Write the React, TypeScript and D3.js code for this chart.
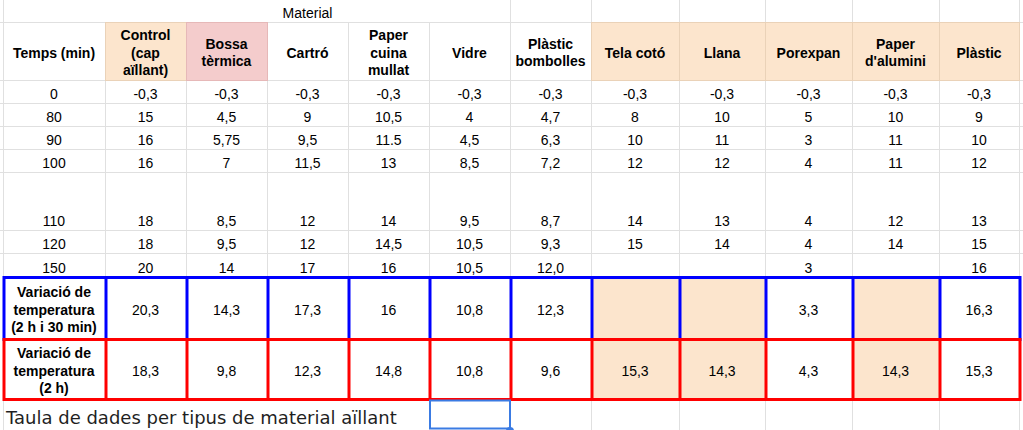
import React, { useEffect, useRef } from "react";
import * as d3 from "d3";

// ---- data (read from the sheet) ----
const groupLabel = "Material";
const timeHeader = "Temps (min)";
const times = ["0", "80", "90", "100", "110", "120", "150"];
const materials = [
  "Control\n(cap\naïllant)",
  "Bossa\ntèrmica",
  "Cartró",
  "Paper\ncuina\nmullat",
  "Vidre",
  "Plàstic\nbombolles",
  "Tela cotó",
  "Llana",
  "Porexpan",
  "Paper\nd'alumini",
  "Plàstic",
];
const control = ["-0,3", "15", "16", "16", "18", "18", "20"];
const bossaTermica = ["-0,3", "4,5", "5,75", "7", "8,5", "9,5", "14"];
const cartro = ["-0,3", "9", "9,5", "11,5", "12", "12", "17"];
const paperCuina = ["-0,3", "10,5", "11.5", "13", "14", "14,5", "16"];
const vidre = ["-0,3", "4", "4,5", "8,5", "9,5", "10,5", "10,5"];
const plasticBombolles = ["-0,3", "4,7", "6,3", "7,2", "8,7", "9,3", "12,0"];
const telaCoto = ["-0,3", "8", "10", "12", "14", "15", ""];
const llana = ["-0,3", "10", "11", "12", "13", "14", ""];
const porexpan = ["-0,3", "5", "3", "4", "4", "4", "3"];
const paperAlumini = ["-0,3", "10", "11", "11", "12", "14", ""];
const plastic = ["-0,3", "9", "10", "12", "13", "15", "16"];
const series = [
  control,
  bossaTermica,
  cartro,
  paperCuina,
  vidre,
  plasticBombolles,
  telaCoto,
  llana,
  porexpan,
  paperAlumini,
  plastic,
];
const variationLabels = [
  "Variació de\ntemperatura\n(2 h i 30 min)",
  "Variació de\ntemperatura\n(2 h)",
];
const variation150 = ["20,3", "14,3", "17,3", "16", "10,8", "12,3", "", "", "3,3", "", "16,3"];
const variation120 = ["18,3", "9,8", "12,3", "14,8", "10,8", "9,6", "15,3", "14,3", "4,3", "14,3", "15,3"];
const caption = "Taula de dades per tipus de material aïllant";

// ---- layout / style ----
const W = 1023;
const H = 430;
const left = 3;
const colWidths = [102, 81, 81, 81, 81, 81, 81, 88, 86, 87, 87, 80];
// group, header, 7 time rows, 2 variation rows, caption row
const rowHeights = [22, 58, 23, 23, 23, 23, 58, 23, 24, 62, 60, 31];
const peach = "#fce5cd";
const pink = "#f4cccc";
const headerFill: Record<number, string> = {
  0: peach,
  1: pink,
  6: peach,
  7: peach,
  8: peach,
  9: peach,
  10: peach,
};
const grid = "#e0e0e0";
const font = "'Liberation Sans', Arial, sans-serif";

export default function App() {
  const ref = useRef<SVGSVGElement | null>(null);

  useEffect(() => {
    const svg = d3.select(ref.current);
    svg.selectAll("*").remove();

    const colX = [left, ...Array.from(d3.cumsum(colWidths)).map((v) => left + v)];
    const rowY = [0, ...Array.from(d3.cumsum(rowHeights))];
    const cx = (c: number) => (colX[c] + colX[c + 1]) / 2;
    const last = colX.length - 1;

    svg.append("rect").attr("width", W).attr("height", H).attr("fill", "#fff");

    // fills
    const fills = svg.append("g");
    materials.forEach((_m, i) => {
      const f = headerFill[i];
      if (!f) return;
      fills
        .append("rect")
        .attr("x", colX[i + 1])
        .attr("y", rowY[1])
        .attr("width", colX[i + 2] - colX[i + 1])
        .attr("height", rowY[2] - rowY[1])
        .attr("fill", f);
    });
    variation150.forEach((v, i) => {
      if (v !== "") return;
      fills
        .append("rect")
        .attr("x", colX[i + 1])
        .attr("y", rowY[9])
        .attr("width", colX[i + 2] - colX[i + 1])
        .attr("height", rowY[11] - rowY[9])
        .attr("fill", peach);
    });

    // grid lines
    const lines = svg
      .append("g")
      .attr("stroke", grid)
      .attr("stroke-width", 1)
      .attr("shape-rendering", "crispEdges");
    for (let r = 1; r <= 8; r++) {
      lines
        .append("line")
        .attr("x1", 0)
        .attr("x2", W)
        .attr("y1", rowY[r] + 0.5)
        .attr("y2", rowY[r] + 0.5);
    }
    colX.forEach((x, c) => {
      let y0 = 0;
      if (c >= 1 && c <= 5) y0 = rowY[1];
      let y1 = H;
      if (c >= 1 && c <= 6) y1 = rowY[11];
      lines
        .append("line")
        .attr("x1", x + 0.5)
        .attr("x2", x + 0.5)
        .attr("y1", y0)
        .attr("y2", y1);
    });
    // tinted borders round the coloured header cells
    materials.forEach((_m, i) => {
      if (!headerFill[i]) return;
      svg
        .append("rect")
        .attr("x", colX[i + 1] + 0.5)
        .attr("y", rowY[1] + 0.5)
        .attr("width", colX[i + 2] - colX[i + 1])
        .attr("height", rowY[2] - rowY[1])
        .attr("fill", "none")
        .attr("stroke", headerFill[i] === pink ? "#e6b8b8" : "#ead2b8")
        .attr("shape-rendering", "crispEdges");
    });

    const text = svg
      .append("g")
      .attr("font-family", font)
      .attr("font-size", 14)
      .attr("fill", "#000")
      .attr("text-anchor", "middle");

    const multi = (label: string, x: number, r: number, bold: boolean) => {
      const parts = label.split("\n");
      const mid = (rowY[r] + rowY[r + 1]) / 2;
      const t = text.append("text").attr("font-weight", bold ? "bold" : "normal");
      parts.forEach((p, i) => {
        t.append("tspan")
          .attr("x", x)
          .attr("y", mid + 6.7 + (i - (parts.length - 1) / 2) * 17.3)
          .text(p);
      });
    };

    // group title
    text
      .append("text")
      .attr("x", (colX[1] + colX[6]) / 2)
      .attr("y", rowY[1] - 4)
      .text(groupLabel);

    // header row
    multi(timeHeader, cx(0), 1, true);
    materials.forEach((m, i) => multi(m, cx(i + 1), 1, true));

    // time rows
    times.forEach((t, r) => {
      const base = rowY[r + 3] - 4.5;
      text.append("text").attr("x", cx(0)).attr("y", base).text(t);
      series.forEach((s, i) => {
        if (s[r] === "") return;
        text.append("text").attr("x", cx(i + 1)).attr("y", base).text(s[r]);
      });
    });

    // variation rows
    [variation150, variation120].forEach((vals, k) => {
      const r = 9 + k;
      multi(variationLabels[k], cx(0), r, true);
      vals.forEach((v, i) => {
        if (v === "") return;
        multi(v, cx(i + 1), r, false);
      });
    });

    // thick borders
    const box = (r: number, color: string) => {
      const g = svg.append("g").attr("stroke", color).attr("stroke-width", 3).attr("fill", "none");
      const y0 = rowY[r] + 0.5;
      const y1 = rowY[r + 1] + 0.5;
      g.append("line").attr("x1", colX[0]).attr("x2", colX[last] + 1.5).attr("y1", y0).attr("y2", y0);
      g.append("line").attr("x1", colX[0]).attr("x2", colX[last] + 1.5).attr("y1", y1).attr("y2", y1);
      colX.forEach((x) => {
        g.append("line")
          .attr("x1", x + 1)
          .attr("x2", x + 1)
          .attr("y1", y0 - 1.5)
          .attr("y2", y1 + 1.5);
      });
    };
    box(9, "#0000ff");
    box(10, "#ff0000");

    // caption
    svg
      .append("text")
      .attr("x", 6)
      .attr("y", rowY[11] + 24.5)
      .attr("font-family", "'DejaVu Sans', sans-serif")
      .attr("font-size", 18)
      .attr("fill", "#1f1f1f")
      .text(caption);

    // active-cell selection
    const sel = "#3a7be3";
    svg
      .append("rect")
      .attr("x", colX[5] + 1)
      .attr("y", rowY[11] + 1.5)
      .attr("width", colX[6] - colX[5] - 1)
      .attr("height", H - rowY[11] - 3)
      .attr("fill", "none")
      .attr("stroke", sel)
      .attr("stroke-width", 2);
    svg
      .append("circle")
      .attr("cx", colX[6])
      .attr("cy", H + 1)
      .attr("r", 4)
      .attr("fill", sel);
  }, []);

  return (
    <div style={{ position: "absolute", left: 0, top: 0 }}>
      <svg ref={ref} width={W} height={H} style={{ display: "block" }} />
    </div>
  );
}
